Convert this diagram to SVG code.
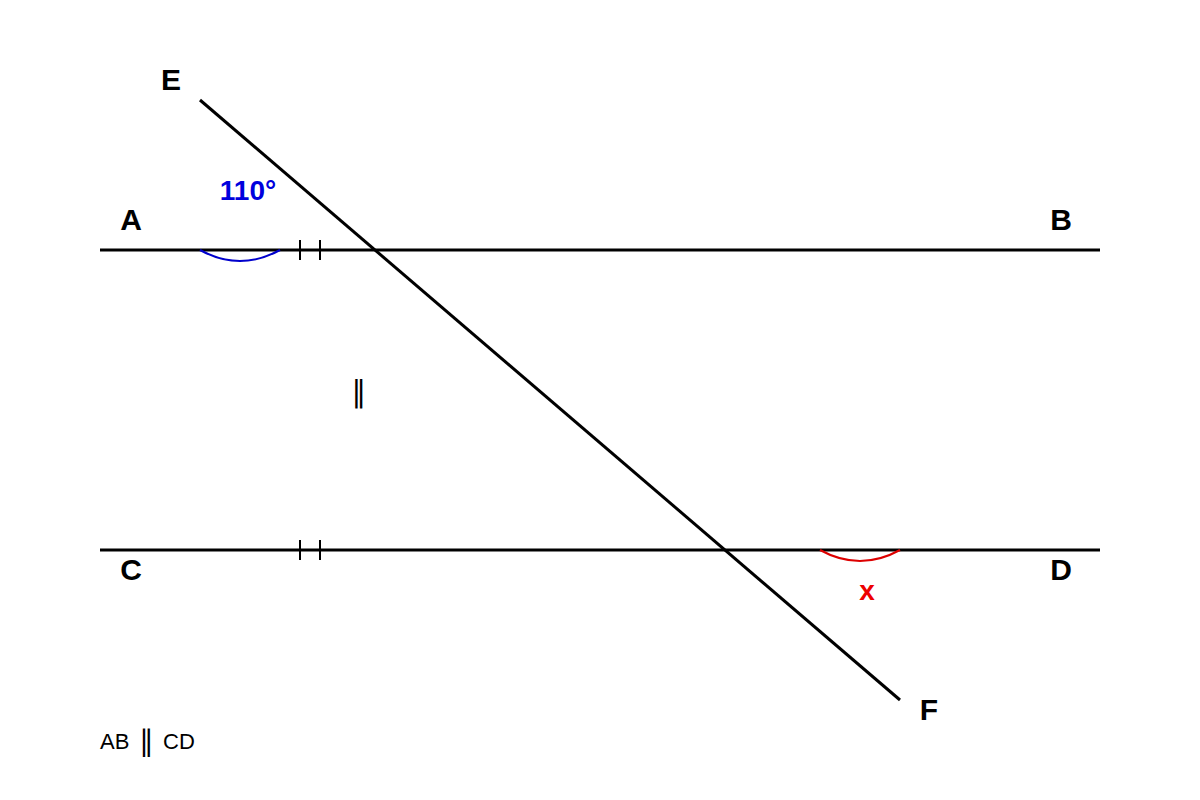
<svg xmlns="http://www.w3.org/2000/svg" width="1200" height="800" viewBox="0 0 1200 800">
<style>
.ln{stroke:#000;stroke-width:3;fill:none}
.tk{stroke:#000;stroke-width:2;fill:none}
.lbl{font-family:"Liberation Sans",Arial,sans-serif;font-weight:bold;font-size:30px;fill:#000;text-anchor:middle}
.par{font-family:"DejaVu Sans",sans-serif;fill:#000}
</style>
<rect width="1200" height="800" fill="#fff"/>
<g id="connectors">
<line id="AB" class="ln" x1="100" y1="250" x2="1100" y2="250"/>
<line id="CD" class="ln" x1="100" y1="550" x2="1100" y2="550"/>
<line id="EF" class="ln" x1="200" y1="100" x2="900" y2="700"/>
</g>
<g id="ticks">
<line class="tk" x1="300" y1="240" x2="300" y2="260"/>
<line class="tk" x1="320" y1="240" x2="320" y2="260"/>
<line class="tk" x1="300" y1="540" x2="300" y2="560"/>
<line class="tk" x1="320" y1="540" x2="320" y2="560"/>
</g>
<g id="angle110">
<path d="M200,250 Q240,272 280,250" stroke="#0000cc" stroke-width="2" fill="none"/>
<text x="248" y="200" class="lbl" style="fill:#0000dd;font-size:28px">110°</text>
</g>
<g id="angleX">
<path d="M820,550 Q860,572 900,550" stroke="#dd0000" stroke-width="2" fill="none"/>
<text x="867" y="600" class="lbl" style="fill:#ee0000;font-size:28px">x</text>
</g>
<g id="E"><text x="171" y="90" class="lbl">E</text></g>
<g id="A"><text x="131" y="230" class="lbl">A</text></g>
<g id="B"><text x="1061" y="230" class="lbl">B</text></g>
<g id="C"><text x="131" y="580" class="lbl">C</text></g>
<g id="D"><text x="1061" y="580" class="lbl">D</text></g>
<g id="F"><text x="929" y="720" class="lbl">F</text></g>
<text x="358.7" y="401.5" class="par" font-size="30" text-anchor="middle">∥</text>
<text y="749" font-family="Liberation Sans, Arial, sans-serif" font-size="22"><tspan x="100">AB</tspan><tspan x="146.2" y="751" class="par" font-size="29" text-anchor="middle">∥</tspan><tspan x="163" y="749">CD</tspan></text>
</svg>
